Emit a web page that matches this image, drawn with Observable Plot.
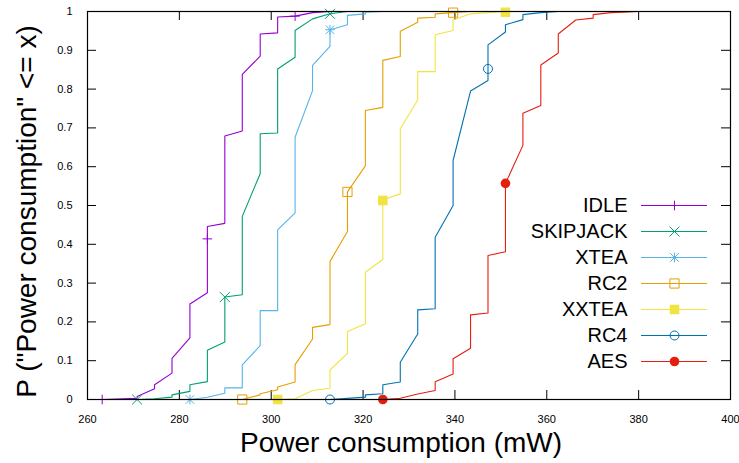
<!DOCTYPE html>
<html><head><meta charset="utf-8">
<script src="https://cdn.jsdelivr.net/npm/d3@7"></script>
<script src="https://cdn.jsdelivr.net/npm/@observablehq/plot@0.6"></script>
<style>
body{margin:0;background:#fff}
#wrap{position:relative;width:739px;height:463px}
#legend{position:absolute;left:520px;top:176px}
</style>
</head><body><div id="wrap"></div>
<script>
const seriesNames = ["IDLE","SKIPJACK","XTEA","RC2","XXTEA","RC4","AES"];
const seriesColors = ["#9400d3","#009e73","#56b4e9","#e69f00","#f0e442","#0072b2","#e51e10"];
const seriesSymbols = ["plus","times","asterisk","openSquare","filledSquare","openCircle","filledCircle"];
const xTicks = [260,280,300,320,340,360,380,400];
const yTicks = [0,0.1,0.2,0.3,0.4,0.5,0.6,0.7,0.8,0.9,1];
const xTitle = "Power consumption (mW)";
const yTitle = 'P ("Power consumption" <= x)';

// CDF polylines [power mW, probability]
const idle = [[263.2,0],[270.8,0.003],[270.8,0.008],[274.6,0.028],[274.6,0.038],[278.4,0.068],[278.4,0.106],[282.3,0.159],[282.3,0.246],[286.1,0.275],[286.1,0.446],[289.9,0.454],[289.9,0.679],[293.7,0.692],[293.7,0.838],[297.6,0.885],[297.6,0.942],[301.4,0.945],[301.4,0.986],[305.2,0.988],[309.0,0.997],[312.8,1]];
const skipjack = [[270.8,0],[274.6,0.002],[278.4,0.006],[278.4,0.012],[282.3,0.021],[282.3,0.038],[286.1,0.046],[286.1,0.127],[289.9,0.148],[289.9,0.264],[293.7,0.27],[293.7,0.472],[297.6,0.582],[297.6,0.685],[301.4,0.687],[301.4,0.852],[305.2,0.882],[305.2,0.951],[309.0,0.981],[312.8,0.994],[316.6,1]];
const xtea = [[282.3,0],[286.1,0.006],[289.9,0.016],[289.9,0.030],[293.7,0.030],[293.7,0.089],[297.6,0.139],[297.6,0.229],[301.4,0.229],[301.4,0.437],[305.2,0.481],[305.2,0.676],[309.0,0.796],[309.0,0.861],[312.8,0.910],[312.8,0.953],[316.6,0.966],[316.6,0.990],[320.5,0.994],[320.5,0.998],[324.3,1]];
const rc2 = [[293.7,0],[297.6,0.012],[297.6,0.015],[301.4,0.025],[301.4,0.032],[305.2,0.045],[305.2,0.090],[309.0,0.156],[309.0,0.186],[312.8,0.193],[312.8,0.356],[316.6,0.433],[316.6,0.535],[320.5,0.602],[320.5,0.745],[324.3,0.753],[324.3,0.874],[328.1,0.884],[328.1,0.949],[331.9,0.972],[331.9,0.983],[335.7,0.985],[335.7,0.994],[339.6,0.997],[343.4,1]];
const xxtea = [[301.4,0],[305.2,0.002],[309.0,0.023],[312.8,0.029],[312.8,0.076],[316.6,0.119],[316.6,0.175],[320.5,0.195],[320.5,0.328],[324.3,0.361],[324.3,0.515],[328.1,0.530],[328.1,0.698],[331.9,0.772],[331.9,0.845],[335.7,0.845],[335.7,0.940],[339.6,0.951],[339.6,0.978],[343.4,0.994],[347.2,0.997],[351.0,1]];
const rc4 = [[312.8,0],[316.6,0.003],[320.5,0.006],[320.5,0.012],[324.3,0.015],[324.3,0.038],[328.1,0.045],[328.1,0.096],[331.9,0.169],[331.9,0.231],[335.7,0.234],[335.7,0.418],[339.6,0.5],[339.6,0.616],[343.4,0.795],[347.2,0.822],[347.2,0.914],[351.0,0.947],[351.0,0.966],[354.8,0.979],[354.8,0.992],[358.7,0.997],[362.5,1]];
const aes = [[324.3,0],[328.1,0.003],[331.9,0.014],[335.7,0.023],[335.7,0.046],[339.6,0.066],[339.6,0.105],[343.4,0.132],[343.4,0.218],[347.2,0.223],[347.2,0.371],[351.0,0.381],[351.0,0.557],[354.8,0.655],[354.8,0.738],[358.7,0.758],[358.7,0.862],[362.5,0.893],[362.5,0.942],[366.3,0.978],[370.1,0.983],[370.1,0.992],[374.0,0.997],[377.8,0.999],[379.7,1]];

// marker points
const idlePts = [[263.2,0],[286.1,0.414],[305.2,0.988]];
const skipjackPts = [[270.8,0],[289.9,0.264],[312.8,0.994]];
const xteaPts = [[282.3,0],[312.8,0.953]];
const rc2Pts = [[293.7,0],[316.6,0.535],[339.6,0.997]];
const xxteaPts = [[301.4,0],[324.3,0.513],[351.0,0.998]];
const rc4Pts = [[312.8,0],[347.2,0.852]];
const aesPts = [[324.3,0],[351.0,0.557]];

const seriesLines = [idle, skipjack, xtea, rc2, xxtea, rc4, aes];
const seriesPts = [idlePts, skipjackPts, xteaPts, rc2Pts, xxteaPts, rc4Pts, aesPts];

function symbolDots(data, kind, color, xa, ya) {
  const b = {x: xa, y: ya, strokeWidth: 1};
  switch (kind) {
    case "plus": return [Plot.dot(data, {...b, symbol: "plus", r: 3.2, stroke: color})];
    case "times": return [Plot.dot(data, {...b, symbol: "times", r: 4.6, stroke: color})];
    case "asterisk": return [Plot.dot(data, {...b, symbol: "plus", r: 3.2, stroke: color}), Plot.dot(data, {...b, symbol: "times", r: 4.0, stroke: color})];
    case "openSquare": return [Plot.dot(data, {...b, symbol: "square", r: 5.2, stroke: color, fill: "none"})];
    case "filledSquare": return [Plot.dot(data, {...b, symbol: "square", r: 5.4, fill: color, stroke: "none"})];
    case "openCircle": return [Plot.dot(data, {...b, symbol: "circle", r: 4.5, stroke: color, fill: "none"})];
    case "filledCircle": return [Plot.dot(data, {...b, symbol: "circle", r: 4.8, fill: color, stroke: "none"})];
  }
}

const font = "'Liberation Sans', Arial, Helvetica, sans-serif";

const dataMarks = [];
seriesNames.forEach((n, i) => {
  dataMarks.push(Plot.line(seriesLines[i], {x: d => d[0], y: d => d[1], stroke: seriesColors[i], strokeWidth: 1.1}));
  dataMarks.push(...symbolDots(seriesPts[i], seriesSymbols[i], seriesColors[i], d => d[0], d => d[1]));
});

const chart = Plot.plot({
  width: 739, height: 463,
  marginLeft: 87, marginRight: 9, marginTop: 11, marginBottom: 64,
  x: {domain: [260, 400]},
  y: {domain: [0, 1]},
  style: {fontFamily: font, background: "#fff", color: "#000", overflow: "visible"},
  marks: [
    Plot.ruleX(xTicks, {x: d => d, stroke: "#000", strokeWidth: 1, insetTop: 379}),
    Plot.ruleX(xTicks, {x: d => d, stroke: "#000", strokeWidth: 1, insetBottom: 379}),
    Plot.ruleY(yTicks, {y: d => d, stroke: "#000", strokeWidth: 1, insetRight: 634}),
    Plot.ruleY(yTicks, {y: d => d, stroke: "#000", strokeWidth: 1, insetLeft: 634}),
    Plot.axisX({ticks: xTicks, tickSize: 0, tickPadding: 16, fontSize: 11, label: null, tickFormat: d => String(d)}),
    Plot.axisY({ticks: yTicks, tickSize: 0, tickPadding: 15, fontSize: 11, label: null, tickFormat: d => String(d)}),
    Plot.text([xTitle], {text: d => d, frameAnchor: "bottom", textAnchor: "middle", lineAnchor: "middle", dy: 44, dx: -8, fontSize: 28, fill: "#000"}),
    Plot.text([yTitle], {text: d => d, frameAnchor: "left", textAnchor: "middle", lineAnchor: "middle", rotate: -90, dx: -60, dy: 6, fontSize: 28, fill: "#000"}),
    ...dataMarks,
    Plot.frame({stroke: "#000", strokeWidth: 1.2})
  ]
});

const legendItems = seriesNames.map((n, i) => ({name: n, color: seriesColors[i], kind: seriesSymbols[i]}));
const legendMarks = [
  Plot.text(legendItems, {x: () => 107, y: d => d.name, text: d => d.name, textAnchor: "end", lineAnchor: "middle", fontSize: 20, fill: "#000"}),
];
legendItems.forEach(it => {
  legendMarks.push(Plot.ruleY([it], {y: d => d.name, x1: () => 121, x2: () => 187, stroke: it.color, strokeWidth: 1.1}));
  legendMarks.push(...symbolDots([it], it.kind, it.color, () => 154, d => d.name));
});
const legend = Plot.plot({
  width: 200, height: 215, margin: 0,
  axis: null,
  x: {type: "identity", axis: null},
  y: {type: "point", domain: seriesNames, range: [15.7, 199], axis: null},
  style: {fontFamily: font, background: "transparent", overflow: "visible"},
  marks: legendMarks
});
legend.id = "legend";

const wrap = document.getElementById("wrap");
wrap.appendChild(chart);
wrap.appendChild(legend);
</script>
</body></html>
